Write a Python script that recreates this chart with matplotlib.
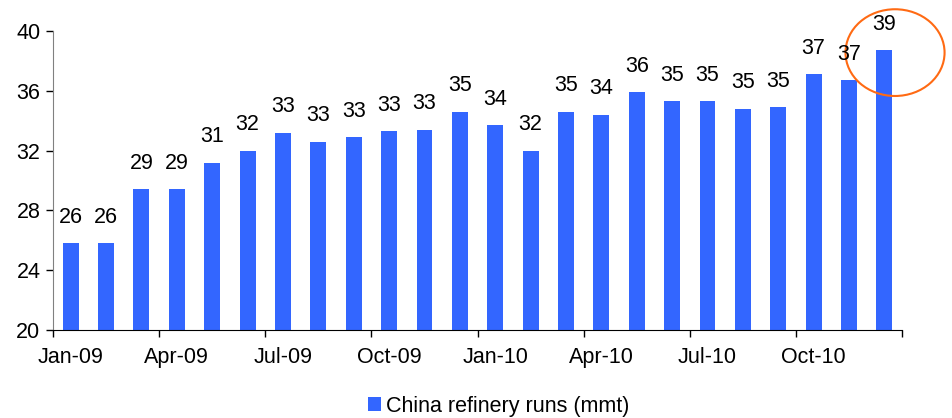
import matplotlib
matplotlib.use("Agg")
import matplotlib.pyplot as plt
from matplotlib.patches import Ellipse

plt.rcParams['font.family'] = ['Liberation Sans', 'DejaVu Sans']

# monthly refinery runs, Jan-09 .. Dec-10 (mmt)
months = ['Jan-09', 'Feb-09', 'Mar-09', 'Apr-09', 'May-09', 'Jun-09',
          'Jul-09', 'Aug-09', 'Sep-09', 'Oct-09', 'Nov-09', 'Dec-09',
          'Jan-10', 'Feb-10', 'Mar-10', 'Apr-10', 'May-10', 'Jun-10',
          'Jul-10', 'Aug-10', 'Sep-10', 'Oct-10', 'Nov-10', 'Dec-10']
runs = [25.8, 25.8, 29.4, 29.4, 31.2, 32.0,
        33.2, 32.6, 32.9, 33.3, 33.4, 34.6,
        33.7, 32.0, 34.6, 34.4, 35.9, 35.3,
        35.3, 34.8, 34.9, 37.1, 36.7, 38.7]
yticks = [20, 24, 28, 32, 36, 40]

blue = '#3366FF'

fig = plt.figure(figsize=(9.53, 4.18), dpi=100)
ax = fig.add_axes([0.0556, 0.2105, 0.891, 0.7155])

x = list(range(len(months)))
bars = ax.bar(x, runs, width=0.45, color=blue, label='China refinery runs (mmt)')

for xi, v in zip(x, runs):
    ax.annotate(f'{v:.0f}', (xi, v), xytext=(0, 11), textcoords='offset points',
                ha='center', va='bottom', fontsize=15.5)

ax.set_xlim(-0.5, len(months) - 0.5)
ax.set_ylim(20, 40)
ax.set_yticks(yticks)
ax.tick_params(axis='y', labelsize=15.5, direction='out', length=5, width=1, pad=4)

# labels under every 3rd bar, tick marks on group boundaries
ax.set_xticks(x[::3])
ax.set_xticklabels(months[::3], fontsize=15.5)
ax.tick_params(axis='x', which='major', length=0, pad=12)
ax.set_xticks([i - 0.5 for i in range(0, len(months) + 1, 3)], minor=True)
ax.tick_params(axis='x', which='minor', direction='out', length=5, width=1)

for side in ('top', 'right'):
    ax.spines[side].set_visible(False)
ax.spines['left'].set_color('#808080')
ax.spines['bottom'].set_color('black')

# highlight the latest month
ax.add_patch(Ellipse((23.3, 38.55), width=2.8, height=5.8, fill=False,
                     edgecolor='#FF6A13', linewidth=1.5, clip_on=False))

ax.legend(loc='upper center', bbox_to_anchor=(0.525, -0.155), frameon=False,
          fontsize=15.5, handlelength=0.6, handleheight=0.6, handletextpad=0.25)

fig.savefig('out.png', dpi=100)
